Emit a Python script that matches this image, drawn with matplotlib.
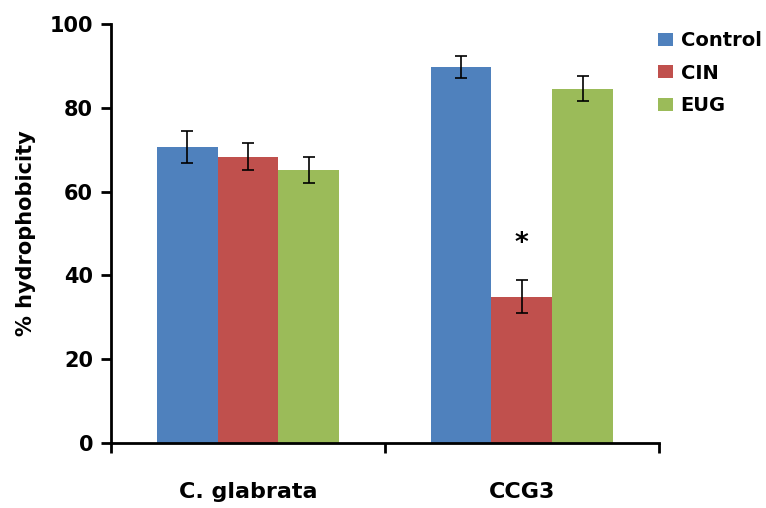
import numpy as np
import matplotlib.pyplot as plt

# data
strains = ['C. glabrata', 'CCG3']
treatments = ['Control', 'CIN', 'EUG']
control = [70.6, 89.8]
control_err = [3.8, 2.6]
cin = [68.3, 34.9]
cin_err = [3.2, 3.9]
eug = [65.2, 84.5]
eug_err = [3.1, 3.0]
colors = ['#4F81BD', '#C0504D', '#9BBB59']

fig = plt.figure(figsize=(7.66, 5.08), dpi=100)
ax = fig.add_axes([0.145, 0.128, 0.715, 0.825])

x = np.arange(len(strains))
w = 0.222
series = [(control, control_err), (cin, cin_err), (eug, eug_err)]
for i, (vals, errs) in enumerate(series):
	ax.bar(x + (i - 1) * w, vals, w, color=colors[i], label=treatments[i], zorder=2)
	ax.errorbar(x + (i - 1) * w, vals, yerr=errs, fmt='none', ecolor='black',
				elinewidth=1.2, capsize=4, capthick=1.2, zorder=3)

# significance mark over CIN on CCG3
ax.text(x[1], 47.5, '*', ha='center', va='center', fontsize=19, fontweight='bold')

ax.set_xlim(-0.5, 1.5)
ax.set_ylim(0, 100)
ax.set_yticks([0, 20, 40, 60, 80, 100])
ax.tick_params(axis='y', direction='out', length=7, width=2, labelsize=15, pad=6)
for lab in ax.get_yticklabels():
	lab.set_fontweight('bold')

ax.set_xticks([-0.5, 0.5, 1.5])
ax.set_xticklabels([])
ax.tick_params(axis='x', which='major', direction='out', length=7, width=2)
ax.set_xticks(x, minor=True)
ax.set_xticklabels(strains, minor=True, fontsize=16, fontweight='bold')
ax.tick_params(axis='x', which='minor', length=0, pad=28)

ax.spines['top'].set_visible(False)
ax.spines['right'].set_visible(False)
ax.spines['left'].set_linewidth(2)
ax.spines['bottom'].set_linewidth(2)

ax.set_ylabel('% hydrophobicity', fontsize=15, fontweight='bold', labelpad=10)

leg = ax.legend(loc='upper left', bbox_to_anchor=(0.967, 1.025), frameon=False,
				prop={'size': 14, 'weight': 'bold'}, handlelength=0.75, handleheight=0.65,
				handletextpad=0.4, labelspacing=0.7)

fig.savefig('out.png', dpi=100)
